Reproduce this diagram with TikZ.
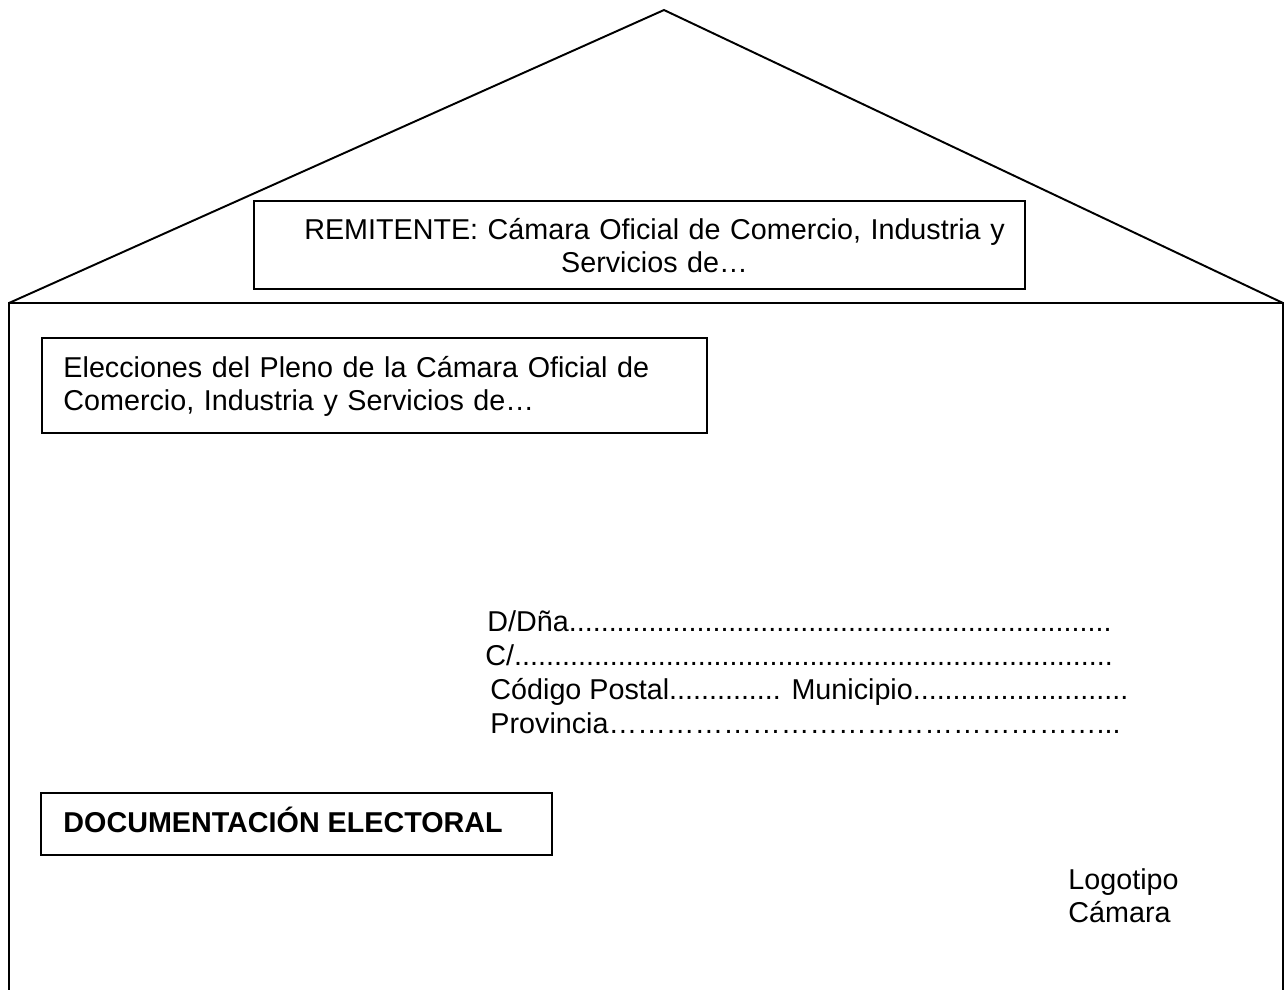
\documentclass[tikz,border=0pt]{standalone}
\usepackage{fontspec}
\setmainfont{Liberation Sans}
\newcommand{\dotrun}[2]{\foreach \k in {1,...,#1}{#2}}

\begin{document}
\begin{tikzpicture}[
    x=0.411pt,y=-0.411pt,
    envline/.style={line width=0.8pt,line join=miter},
    frame/.style={draw,line width=0.8pt,inner sep=0pt},
    txt/.style={inner sep=0pt,font=\fontsize{11.8}{13.8}\selectfont,anchor=base west}
]
\useasboundingbox (0,0) rectangle (1286,989);

% envelope outline and flap
\coordinate (apex) at (664,10);
\coordinate (flapL) at (9,303);
\coordinate (flapR) at (1283,303);
\coordinate (baseL) at (9,1010);
\coordinate (baseR) at (1283,1010);
\draw[envline] (baseL) -- (flapL) -- (flapR) -- (baseR);
\draw[envline] (flapL) -- (apex) -- (flapR);

% sender box
\node[frame,minimum width=316.9pt,minimum height=36.2pt] (remBox) at (639.5,245) {};
\node[txt,anchor=base,text width=300pt,align=center] (remText) at (654.5,239) {
    REMITENTE: Cámara Oficial de Comercio, Industria y\\
    Servicios de…
};

% election box
\node[frame,minimum width=273.3pt,minimum height=39pt] (elecBox) at (374.5,385.5) {};
\node[txt,text width=260pt,align=left] (elecText) at (63,377) {
    Elecciones del Pleno de la Cámara Oficial de\\
    Comercio, Industria y Servicios de…
};

% addressee
\node[txt] (addrName) at (487,631) {D/Dña\dotrun{68}{.}};
\node[txt] (addrStreet) at (485,665) {C/\dotrun{75}{.}};
\node[txt] (addrPostal) at (490,699) {Código Postal\dotrun{14}{.} Municipio\dotrun{27}{.}};
\node[txt] (addrProv) at (490,733) {Provincia\dotrun{17}{…}...};

% documentation box
\node[frame,minimum width=210pt,minimum height=25.5pt] (docBox) at (296.5,824) {};
\node[txt,font=\fontsize{11.8}{13.8}\selectfont\bfseries] (docText) at (63,832) {DOCUMENTACIÓN ELECTORAL};

% logo
\node[txt,text width=60pt,align=left] (logoText) at (1068,889) {
    Logotipo\\
    Cámara
};
\end{tikzpicture}
\end{document}
